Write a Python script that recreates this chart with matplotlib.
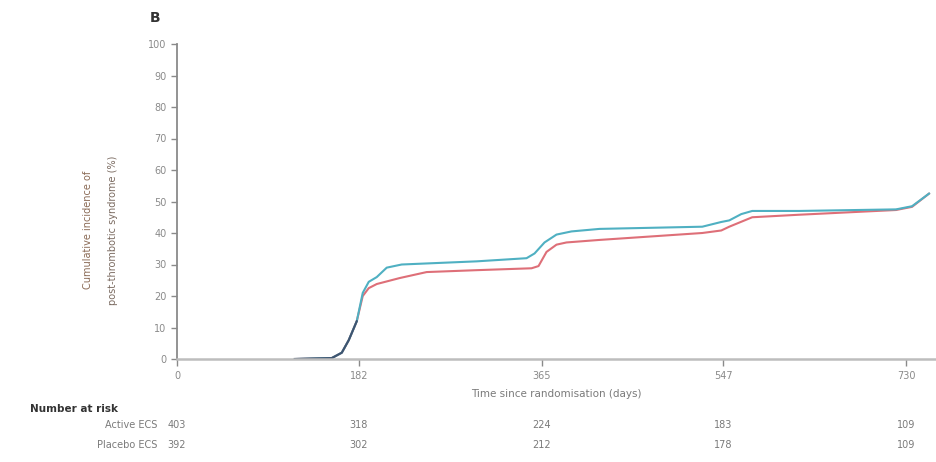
import matplotlib
matplotlib.use("Agg")
import matplotlib.pyplot as plt
from matplotlib.transforms import blended_transform_factory

# ---- data ----
active_days = [118, 155, 165, 172, 180, 186, 192, 200, 210, 225, 300, 350, 358, 368, 380, 395,
               423, 526, 545, 553, 565, 576, 623, 720, 736, 753]
active_pct = [0, 0.3, 2, 6, 12, 21, 24.5, 26, 29, 30, 31, 32, 33.5, 37, 39.5, 40.5,
              41.3, 42, 43.5, 44, 46, 47, 47, 47.5, 48.5, 52.5]
placebo_days = [118, 155, 165, 172, 180, 186, 192, 200, 223, 250, 300, 355, 362, 370, 380, 390,
                423, 526, 545, 553, 576, 623, 720, 736, 753]
placebo_pct = [0, 0.3, 2, 6, 12, 20, 22.5, 23.8, 25.7, 27.6, 28.2, 28.8, 29.5, 34, 36.3, 37,
               37.8, 40, 40.8, 42, 45, 45.8, 47.3, 48.3, 52.5]

x_ticks = [0, 182, 365, 547, 730]
y_ticks = [0, 10, 20, 30, 40, 50, 60, 70, 80, 90, 100]
risk_groups = ["Active ECS", "Placebo ECS"]
risk_active = [403, 318, 224, 183, 109]
risk_placebo = [392, 302, 212, 178, 109]

# ---- figure ----
W, H = 937, 462
fig = plt.figure(figsize=(W / 100, H / 100), dpi=100)
ax = fig.add_axes([177 / W, 1 - 359 / H, (935 - 177) / W, (359 - 44) / H])

ax.plot(placebo_days, placebo_pct, color="#de6f78", lw=1.5, solid_joinstyle="round")
ax.plot(active_days, active_pct, color="#4fb0c2", lw=1.5, solid_joinstyle="round")
# overlapping early segment appears dark where both curves coincide
ax.plot(active_days[:5], active_pct[:5], color="#3f5470", lw=1.5, solid_joinstyle="round")

ax.set_xlim(0, 759)
ax.set_ylim(0, 100)
ax.set_xticks(x_ticks)
ax.set_xticklabels([str(t) for t in x_ticks])
ax.set_yticks(y_ticks)
ax.set_yticklabels([str(t) for t in y_ticks])

for s in ["top", "right"]:
    ax.spines[s].set_visible(False)
ax.spines["left"].set_color("#8a8a8a")
ax.spines["left"].set_linewidth(1.3)
ax.spines["bottom"].set_color("#bdbdbd")
ax.spines["bottom"].set_linewidth(1.8)
ax.tick_params(axis="y", colors="#8a8a8a", labelcolor="#8a8a8a", labelsize=7, length=4, width=1)
ax.tick_params(axis="x", colors="#8a8a8a", labelcolor="#8a8a8a", labelsize=7, length=5, width=1)

ax.set_xlabel("Time since randomisation (days)", fontsize=7.5, color="#7a7a7a", labelpad=6)

fig.text(88 / W, 1 - 230 / H, "Cumulative incidence of", rotation=90,
         ha="center", va="center", fontsize=7, color="#8a6a55")
fig.text(113 / W, 1 - 230 / H, "post-thrombotic syndrome (%)", rotation=90,
         ha="center", va="center", fontsize=7, color="#7a6a60")

fig.text(155 / W, 1 - 18 / H, "B", fontsize=10, fontweight="bold", color="#333333",
         ha="center", va="center")

# ---- number at risk ----
tr = blended_transform_factory(ax.transData, fig.transFigure)
fig.text(30 / W, 1 - 409 / H, "Number at risk", fontsize=7.5, fontweight="bold",
         color="#333333", ha="left", va="center")
rows = [risk_active, risk_placebo]
row_y = [1 - 425 / H, 1 - 445 / H]
for name, vals, yy in zip(risk_groups, rows, row_y):
    fig.text(157 / W, yy, name, fontsize=7, color="#7a7a7a", ha="right", va="center")
    for t, v in zip(x_ticks, vals):
        ax.text(t, yy, str(v), transform=tr, fontsize=7, color="#7a7a7a",
                ha="center", va="center")

fig.savefig("out.png", dpi=100)
